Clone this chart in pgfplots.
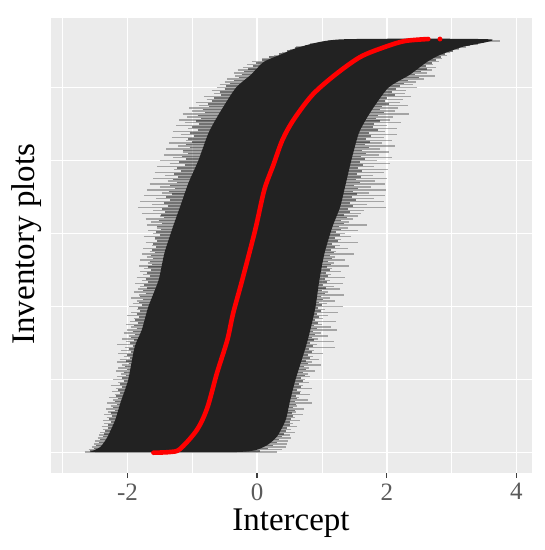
\documentclass[border=0pt]{standalone}
\usepackage{pgfplots}
\usepackage{pgfplotstable}
\usepackage{fontspec}
\setmainfont{Liberation Serif}
\pgfplotsset{compat=1.18}
\definecolor{panel}{HTML}{EBEBEB}
\definecolor{bar}{HTML}{222222}
\definecolor{ticktxt}{HTML}{5A5A5A}
\pgfplotstableread{
y lo hi
5640 1.10 3.75
5600 .82 3.40
5560 .60 3.22
5520 .50 3.12
5480 .38 2.98
5440 .26 2.93
5400 .08 2.85
5360 -.08 2.80
5320 -.15 2.72
5280 -.22 2.76
5240 -.30 2.70
5200 -.36 2.62
5160 -.34 2.74
5120 -.46 2.58
5080 -.50 2.45
5040 -.58 2.40
5000 -.62 2.46
4960 -.70 2.30
4920 -.66 2.28
4880 -.82 2.38
4840 -.78 2.25
4800 -.95 2.20
4760 -.90 2.33
4720 -1.05 2.18
4680 -1.00 2.12
4640 -1.15 2.35
4600 -1.08 2.10
4560 -1.20 2.05
4520 -1.12 2.22
4480 -1.25 2.00
4440 -1.06 2.15
4400 -1.30 1.98
4360 -1.18 2.16
4320 -1.32 1.95
4280 -1.10 2.08
4240 -1.36 1.92
4200 -1.22 2.12
4160 -1.40 1.90
4120 -1.15 2.04
4080 -1.44 1.88
4040 -1.30 2.08
4000 -1.50 1.85
3960 -1.35 2.05
3920 -1.54 1.80
3880 -1.28 2.02
3840 -1.58 1.95
3800 -1.42 1.78
3760 -1.60 2.00
3720 -1.38 1.82
3680 -1.66 1.98
3640 -1.50 1.75
3600 -1.70 1.99
3560 -1.46 1.72
3520 -1.74 1.98
3480 -1.56 1.80
3440 -1.80 1.96
3400 -1.62 1.70
3360 -1.84 1.99
3320 -1.60 1.65
3280 -1.78 1.60
3240 -1.50 1.55
3200 -1.72 1.48
3160 -1.64 1.42
3120 -1.70 1.70
3080 -1.55 1.40
3040 -1.68 1.55
3000 -1.60 1.35
2960 -1.74 1.45
2920 -1.58 1.30
2880 -1.72 1.55
2840 -1.62 1.28
2800 -1.76 1.40
2760 -1.66 1.22
2720 -1.78 1.50
2680 -1.70 1.20
2640 -1.80 1.35
2600 -1.68 1.18
2560 -1.82 1.42
2520 -1.74 1.16
2480 -1.80 1.30
2440 -1.76 1.14
2400 -1.86 1.36
2360 -1.78 1.12
2320 -1.88 1.32
2280 -1.80 1.18
2240 -1.84 1.28
2200 -1.90 1.10
2160 -1.82 1.34
2120 -1.94 1.12
2080 -1.86 1.20
2040 -1.92 1.08
2000 -1.98 1.33
1960 -1.86 1.05
1920 -1.94 1.24
1880 -2.00 1.10
1840 -1.90 1.02
1800 -1.96 1.22
1760 -2.02 1.00
1720 -1.94 1.14
1680 -2.00 1.23
1640 -2.06 .98
1600 -1.98 1.10
1560 -2.08 .94
1520 -2.02 1.18
1480 -2.16 .92
1440 -2.04 1.20
1400 -2.10 .88
1360 -2.14 1.02
1320 -2.06 .86
1280 -2.12 .96
1240 -2.16 .84
1200 -2.08 .98
1160 -2.14 .80
1120 -2.18 .90
1080 -2.10 .78
1040 -2.16 .82
1000 -2.22 .74
960 -2.14 .80
920 -2.26 .70
880 -2.18 .85
840 -2.24 .68
800 -2.20 .82
760 -2.28 .64
720 -2.22 .78
680 -2.31 .85
640 -2.26 .62
600 -2.33 .72
560 -2.30 .60
520 -2.36 .70
480 -2.32 .58
440 -2.38 .66
400 -2.36 .56
360 -2.40 .62
320 -2.38 .52
280 -2.42 .58
240 -2.44 .50
200 -2.46 .52
160 -2.50 .48
120 -2.52 .46
80 -2.55 .44
40 -2.60 .38
10 -2.66 .30
}\rows
\pgfplotstableread{
y lo hi
5620 1.02 3.50
5580 .74 3.28
5540 .58 3.12
5500 .46 3.02
5460 .34 2.90
5420 .18 2.84
5380 .08 2.76
5340 -.02 2.70
5300 -.06 2.60
5260 -.14 2.62
5220 -.20 2.52
5180 -.24 2.44
5140 -.28 2.50
5100 -.36 2.32
5060 -.42 2.26
5020 -.48 2.20
4980 -.50 2.14
4940 -.58 2.08
4900 -.56 2.12
4860 -.66 2.00
4820 -.70 1.98
4780 -.76 2.04
4740 -.74 1.92
4700 -.84 1.90
4660 -.80 1.96
4620 -.92 1.86
4580 -.86 1.84
4540 -.94 1.90
4500 -.90 1.80
4460 -1.00 1.78
4420 -.92 1.86
4380 -1.04 1.72
4340 -.98 1.76
4300 -1.06 1.68
4260 -1.00 1.74
4220 -1.10 1.66
4180 -1.04 1.72
4140 -1.14 1.62
4100 -1.06 1.68
4060 -1.16 1.60
4020 -1.10 1.66
3980 -1.20 1.58
3940 -1.12 1.64
3900 -1.24 1.56
3860 -1.18 1.62
3820 -1.28 1.54
3780 -1.22 1.60
3740 -1.30 1.52
3700 -1.24 1.58
3660 -1.34 1.50
3620 -1.26 1.56
3580 -1.36 1.48
3540 -1.32 1.54
3500 -1.40 1.46
3460 -1.34 1.52
3420 -1.44 1.44
3380 -1.38 1.48
3340 -1.46 1.40
3300 -1.42 1.44
3260 -1.48 1.34
3220 -1.44 1.38
3180 -1.52 1.30
3140 -1.46 1.34
3100 -1.54 1.26
3060 -1.48 1.30
3020 -1.56 1.22
2980 -1.50 1.28
2940 -1.58 1.20
2900 -1.54 1.24
2860 -1.60 1.16
2820 -1.56 1.20
2780 -1.62 1.14
2740 -1.58 1.18
2700 -1.64 1.12
2660 -1.60 1.16
2620 -1.66 1.10
2580 -1.62 1.14
2540 -1.68 1.08
2500 -1.64 1.12
2460 -1.70 1.06
2420 -1.66 1.10
2380 -1.72 1.04
2340 -1.68 1.08
2300 -1.74 1.02
2260 -1.70 1.06
2220 -1.76 1.00
2180 -1.72 1.04
2140 -1.80 .98
2100 -1.76 1.02
2060 -1.82 .96
2020 -1.78 1.00
1980 -1.84 .94
1940 -1.80 .98
1900 -1.86 .92
1860 -1.82 .96
1820 -1.88 .90
1780 -1.84 .94
1740 -1.90 .88
1700 -1.86 .92
1660 -1.92 .86
1620 -1.88 .90
1580 -1.94 .84
1540 -1.90 .88
1500 -1.96 .82
1460 -1.92 .86
1420 -1.98 .80
1380 -1.94 .84
1340 -2.00 .78
1300 -1.96 .82
1260 -2.02 .76
1220 -1.98 .78
1180 -2.04 .72
1140 -2.00 .76
1100 -2.06 .70
1060 -2.02 .74
1020 -2.08 .68
980 -2.06 .70
940 -2.12 .64
900 -2.08 .68
860 -2.14 .62
820 -2.12 .66
780 -2.18 .60
740 -2.14 .62
700 -2.20 .58
660 -2.16 .60
620 -2.22 .56
580 -2.20 .58
540 -2.26 .54
500 -2.24 .55
460 -2.28 .52
420 -2.26 .50
380 -2.30 .50
340 -2.30 .46
300 -2.34 .44
260 -2.36 .42
220 -2.38 .38
180 -2.42 .34
140 -2.44 .30
100 -2.48 .24
60 -2.52 .16
25 -2.58 .04
}\rowsb
\begin{document}
\begin{tikzpicture}
\path[use as bounding box] (-51pt,-77pt) rectangle (494pt,473pt);
\begin{axis}[
  at={(0pt,0pt)}, anchor=south west,
  scale only axis, width=481pt, height=455pt,
  xmin=-3.18, xmax=4.24, ymin=-278, ymax=5955,
  axis line style={draw=none},
  axis background/.style={fill=panel},
  xtick={-2,0,2,4},
  minor xtick={-3,-1,1,3},
  ytick={0,2000,4000},
  minor ytick={1000,3000,5000},
  yticklabels={},
  grid=both,
  major grid style={white,line width=1.5pt},
  minor grid style={white,line width=0.9pt},
  tick align=outside,
  xtick pos=bottom,
  major tick length=5pt,
  minor tick length=0pt,
  xtick style={draw=ticktxt!70!black,line width=1.4pt},
  ytick style={draw=none},
  xticklabel style={font=\fontsize{25}{28}\selectfont,text=ticktxt,yshift=-2pt},
  xticklabel={\pgfmathprintnumber[assume math mode=true]{\tick}},
  xlabel={Intercept},
  ylabel={Inventory plots},
  every axis x label/.style={at={(axis description cs:0.499,0)},anchor=north,yshift=-32pt,font=\fontsize{33}{36}\selectfont,text=black},
  every axis y label/.style={at={(axis description cs:0,0.503)},anchor=center,rotate=90,yshift=24pt,font=\fontsize{33}{36}\selectfont,text=black},
  clip=true,
]
\addplot[mark=none, draw=none, forget plot,
  error bars/.cd, x dir=plus, x explicit, error mark=none,
  error bar style={draw=bar, opacity=0.35, line width=1.4pt}]
  table[x=lo,y=y,x error expr=\thisrow{hi}-\thisrow{lo}] {\rows};
\addplot[mark=none, draw=none, forget plot,
  error bars/.cd, x dir=plus, x explicit, error mark=none,
  error bar style={draw=bar, opacity=0.6, line width=1.6pt}]
  table[x=lo,y=y,x error expr=\thisrow{hi}-\thisrow{lo}] {\rowsb};
\addplot[fill=bar, draw=none, smooth, tension=0.4] coordinates {
 (-2.58,10)(-2.42,78)(-2.31,215)(-2.19,448)(-2.11,681)(-1.99,996)(-1.89,1448)(-1.78,1681)(-1.68,1996)(-1.52,2366)(-1.43,2736)(-1.30,3092)(-1.19,3366)(-1.06,3695)(-.91,3996)(-.75,4380)(-.58,4654)(-.33,4997)(-.10,5175)(.10,5353)(.35,5449)(.66,5558)(1.31,5663)
 (3.59,5663)(3.16,5558)(2.82,5449)(2.62,5353)(2.35,5175)(2.02,4997)(1.74,4654)(1.57,4380)(1.45,3996)(1.37,3695)(1.28,3366)(1.16,3092)(1.04,2736)(.96,2366)(.90,1996)(.82,1681)(.75,1448)(.59,996)(.50,681)(.44,448)(.30,215)(.10,78)(-.30,10)
 (-2.58,10)
};
\addplot[draw=red, line width=4.6pt, line cap=round, line join=round, smooth, tension=0.5] coordinates {
 (-1.60,0)(-1.34,10)(-1.19,50)(-.93,311)(-.77,612)(-.62,1090)(-.46,1544)(-.37,1910)(-.23,2366)(-.03,3051)(.11,3599)(.25,3941)(.39,4284)(.56,4558)(.85,4900)(1.20,5175)(1.59,5421)(1.97,5558)(2.28,5640)(2.64,5667)
};
\addplot[only marks, mark=*, mark size=2.2pt, mark options={fill=red,draw=red}] coordinates {(2.82,5667)};
\end{axis}
\end{tikzpicture}
\end{document}
